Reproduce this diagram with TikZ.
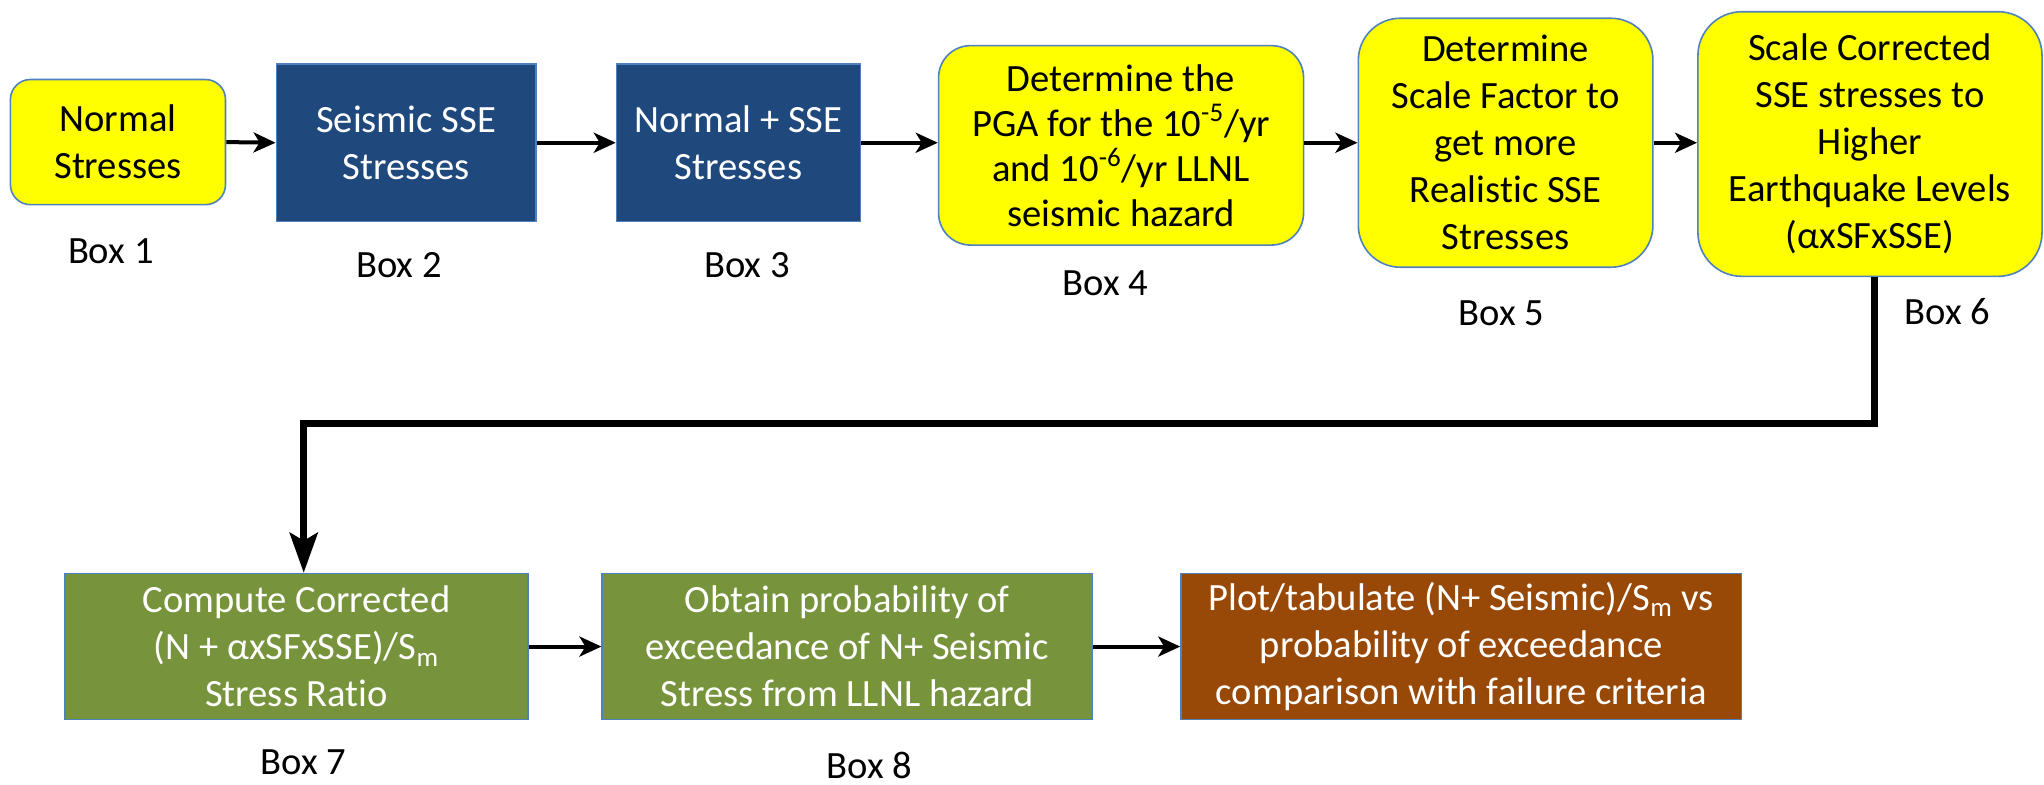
\documentclass[tikz,border=0pt]{standalone}
\usepackage{fontspec}
\setmainfont[RawFeature=-liga]{Carlito}
\usetikzlibrary{arrows.meta,positioning}

\definecolor{boxyellow}{HTML}{FFFF00}
\definecolor{boxblue}{HTML}{1F497D}
\definecolor{boxgreen}{HTML}{77933C}
\definecolor{boxbrown}{HTML}{984807}
\definecolor{edgeblue}{HTML}{4F81BD}

\newcommand{\U}{0.6518pt}

\tikzset{
  x=0.6518pt, y=-0.6518pt,
  every node/.style={font=\fontsize{19.3}{23.5}\selectfont, align=center, inner sep=0pt},
  flowbox/.style args={#1/#2}{draw=edgeblue, line width=0.8pt, minimum width=#1*\U, minimum height=#2*\U},
  yellowbox/.style={fill=boxyellow, text=black},
  bluebox/.style={fill=boxblue, text=white},
  greenbox/.style={fill=boxgreen, text=white},
  brownbox/.style={fill=boxbrown, text=white},
  boxlabel/.style={text=black},
  flowarrow/.style={line width=2pt, -{Stealth[length=11pt,width=10pt,inset=3pt]}},
  bigarrow/.style={line width=3.3pt, -{Stealth[length=20pt,width=14pt,inset=4pt]}}
}

\begin{document}
\begin{tikzpicture}
\useasboundingbox (0,0) rectangle (1568,602);

% top row
\node[flowbox=165/96, yellowbox, rounded corners=10pt] (b1) at (90.5,109) {Normal\\Stresses};
\node[flowbox=199/121, bluebox] (b2) at (311.5,109.5) {Seismic SSE\\Stresses};
\node[flowbox=187/121, bluebox] (b3) at (566.5,109.5) {Normal + SSE\\Stresses};
\node[flowbox=280/153, yellowbox, rounded corners=16pt, font=\fontsize{19.3}{22.5}\selectfont] (b4) at (860,111.5)
  {Determine the\\PGA for the 10\textsuperscript{-5}/yr\\and 10\textsuperscript{-6}/yr LLNL\\seismic hazard};
\node[flowbox=226/191, yellowbox, rounded corners=21pt] (b5) at (1155,109.5)
  {Determine\\Scale Factor to\\get more\\Realistic SSE\\Stresses};
\node[flowbox=264/203, yellowbox, rounded corners=22pt] (b6) at (1434.5,110.5)
  {Scale Corrected\\SSE stresses to\\Higher\\Earthquake Levels\\(αxSFxSSE)};

% bottom row
\node[flowbox=355/112, greenbox] (b7) at (227.5,496)
  {Compute Corrected\\(N + αxSFxSSE)/S\textsubscript{m}\\Stress Ratio};
\node[flowbox=376/112, greenbox] (b8) at (650,496)
  {Obtain probability of\\exceedance of N+ Seismic\\Stress from LLNL hazard};
\node[flowbox=430/112, brownbox] (b9) at (1121,496)
  {Plot/tabulate (N+ Seismic)/S\textsubscript{m} vs\\probability of exceedance\\comparison with failure criteria};

% box labels
\node[boxlabel] (l1) at (85,193) {Box 1};
\node[boxlabel] (l2) at (306,203) {Box 2};
\node[boxlabel] (l3) at (573,203) {Box 3};
\node[boxlabel] (l4) at (848,217) {Box 4};
\node[boxlabel] (l5) at (1152,240) {Box 5};
\node[boxlabel] (l6) at (1494,239) {Box 6};
\node[boxlabel] (l7) at (233,585) {Box 7};
\node[boxlabel] (l8) at (667,587) {Box 8};

% connectors
\draw[flowarrow] (b1.east) -- (b2.west);
\draw[flowarrow] (b2.east) -- (b3.west);
\draw[flowarrow] (b3.east) -- (b4.west |- b3.east);
\draw[flowarrow] (b4.east |- b3.east) -- (b5.west |- b3.east);
\draw[flowarrow] (b5.east |- b3.east) -- (b6.west |- b3.east);
\coordinate (turn) at (1438,325);
\draw[bigarrow] (b6.south -| turn) -- (turn) -- (turn -| 233,0) -- (b7.north -| 233,0);
\draw[flowarrow] (b7.east) -- (b8.west);
\draw[flowarrow] (b8.east) -- (b9.west);
\end{tikzpicture}
\end{document}
